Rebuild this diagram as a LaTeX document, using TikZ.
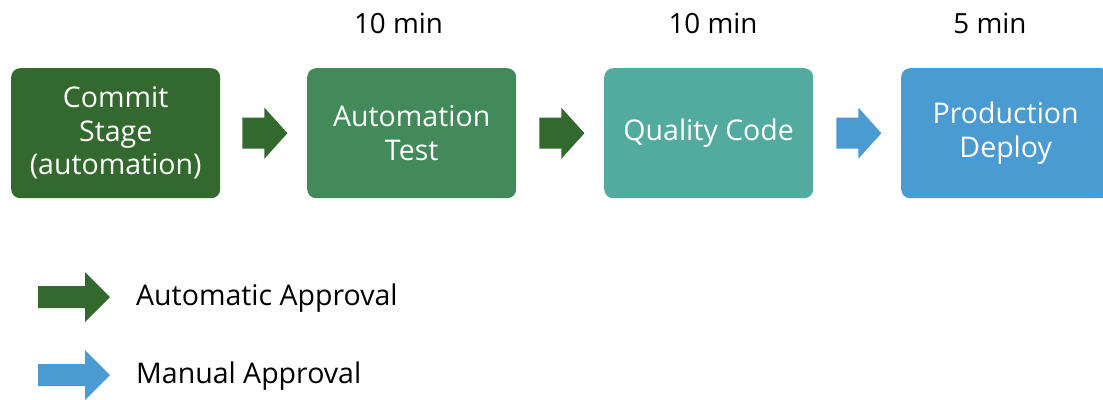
\documentclass[tikz,border=0pt]{standalone}
\usepackage{fontspec}
\setmainfont{Open Sans}
\usetikzlibrary{calc}
\definecolor{gA}{HTML}{33692E}
\definecolor{gB}{HTML}{438A5B}
\definecolor{tC}{HTML}{53AA9E}
\definecolor{bD}{HTML}{4A9BD2}
\begin{document}
\begin{tikzpicture}[x=1pt,y=-1pt,
  box/.style={rounded corners=9pt, minimum width=209pt, minimum height=130pt,
    text=white, align=center, font=\fontsize{28.5}{33.5}\selectfont, inner sep=0pt},
  lbl/.style={font=\fontsize{27.8}{33}\selectfont, text=black, inner sep=0pt},
  legtext/.style={font=\fontsize{28.5}{33}\selectfont, text=black, inner sep=0pt}]
\useasboundingbox (0,0) rectangle (1103,399);
\clip (0,0) rectangle (1103,399);
\fill[white] (0,0) rectangle (1103,399);
% boxes
\node[box, fill=gA, anchor=north west] (commit) at (11,68) {Commit\\Stage\\(automation)};
\node[box, fill=gB, anchor=north west] (autotest) at (307,68) {Automation\\Test};
\node[box, fill=tC, anchor=north west] (quality) at (604,68) {Quality Code};
\node[box, fill=bD, anchor=north west] (deploy) at (901,68) {Production\\Deploy};
% time labels
\node[lbl, anchor=base] (t1) at (398.5,33) {10 min};
\node[lbl, anchor=base] (t2) at (713,33) {10 min};
\node[lbl, anchor=base] (t3) at (990,33) {5 min};
% block arrows between boxes
\fill[gA] ($(commit.east)+(22,-15.5)$) -- ++(22,0) -- ++(0,-10) -- ++(23,25.5) -- ++(-23,25.5) -- ++(0,-10) -- ++(-22,0) -- cycle;
\fill[gA] ($(autotest.east)+(23,-15.5)$) -- ++(22,0) -- ++(0,-10) -- ++(23,25.5) -- ++(-23,25.5) -- ++(0,-10) -- ++(-22,0) -- cycle;
\fill[bD] ($(quality.east)+(23,-15.5)$) -- ++(22,0) -- ++(0,-10) -- ++(23,25.5) -- ++(-23,25.5) -- ++(0,-10) -- ++(-22,0) -- cycle;
% legend
\node[legtext, anchor=base west] (auto) at (136,305) {Automatic Approval};
\node[legtext, anchor=base west] (manual) at (136,383) {Manual Approval};
\fill[gA] (38,286) -- (85,286) -- (85,272) -- (110,297) -- (85,322) -- (85,308) -- (38,308) -- cycle;
\fill[bD] (38,364) -- (85,364) -- (85,350) -- (110,375) -- (85,400) -- (85,386) -- (38,386) -- cycle;
\end{tikzpicture}
\end{document}
